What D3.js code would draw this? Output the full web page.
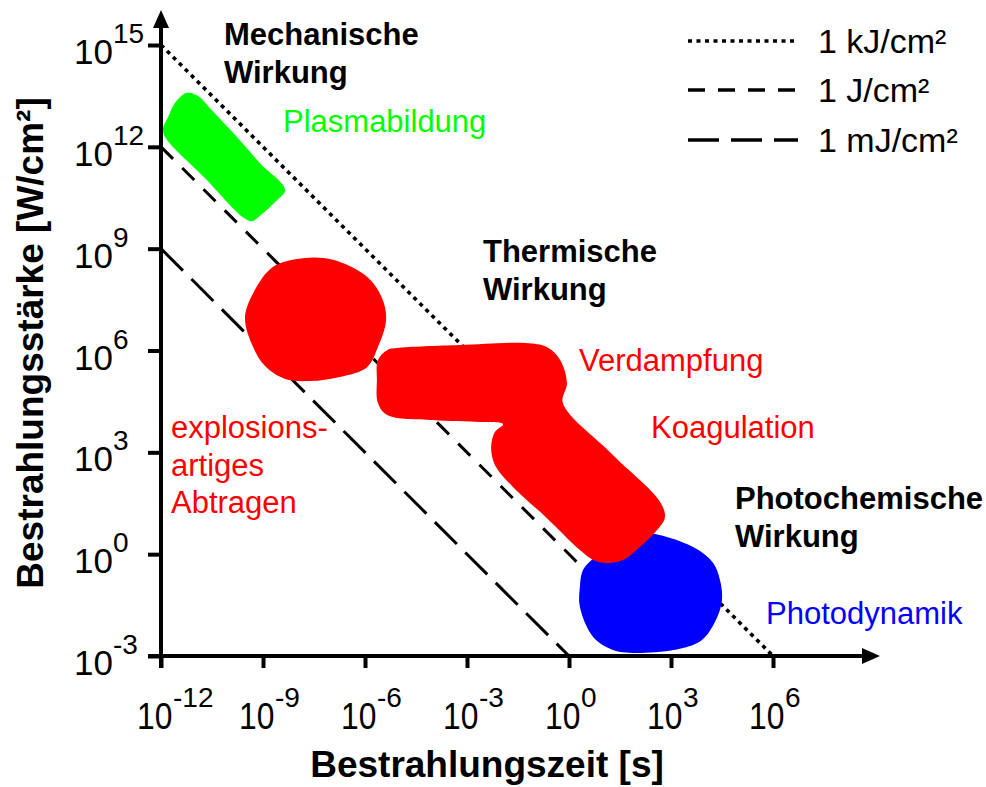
<!DOCTYPE html>
<html>
<head>
<meta charset="utf-8">
<script src="https://cdn.jsdelivr.net/npm/d3@7"></script>
<style>
  html, body { margin: 0; padding: 0; background: #ffffff; }
  svg text { font-family: "Liberation Sans", Arial, Helvetica, sans-serif; }
</style>
</head>
<body>
<svg id="chart" width="986" height="787"></svg>
<script>
// Tick exponents (powers of ten) on both logarithmic axes
const xTickExponents = [-12, -9, -6, -3, 0, 3, 6];
const yTickExponents = [-3, 0, 3, 6, 9, 12, 15];

// Lines of constant fluence (energy density, J/cm²)
const fluenceNames = ["1 kJ/cm²", "1 J/cm²", "1 mJ/cm²"];
const fluenceValues = [1e3, 1, 1e-3];

// Interaction regions, outlines given as [log10 time (s), log10 irradiance (W/cm²)]
const plasmaOutline = [
  [-11.24, 13.59], [-10.91, 13.50], [-10.56, 13.14], [-9.82, 12.35], [-9.09, 11.52],
  [-8.35, 10.73], [-8.65, 10.37], [-9.03, 10.02], [-9.32, 9.81], [-9.56, 9.90],
  [-10.71, 11.08], [-11.88, 12.29], [-11.94, 12.55], [-11.79, 12.88], [-11.59, 13.29]
];
const ablationOutline = [
  [-7.82, 8.72], [-6.94, 8.67], [-5.94, 8.17], [-5.50, 7.55], [-5.38, 6.90],
  [-5.62, 6.10], [-5.94, 5.51], [-6.74, 5.22], [-7.62, 5.10], [-8.35, 5.16],
  [-8.94, 5.54], [-9.29, 6.10], [-9.53, 6.96], [-9.29, 7.69], [-8.71, 8.46]
];
const thermalOutline = [
  [-5.06, 6.07], [-3.21, 6.16], [-1.29, 6.22], [-0.65, 6.10], [-0.26, 5.72],
  [-0.06, 5.04], [-0.18, 4.45], [1.26, 2.95], [2.68, 1.54], [2.82, 1.09],
  [2.59, 0.71], [1.88, 0.03], [1.59, -0.17], [1.12, -0.26], [0.71, -0.17],
  [0.32, 0.12], [-0.68, 1.09], [-1.65, 1.98], [-2.18, 2.63], [-2.29, 3.16],
  [-2.18, 3.60], [-1.94, 3.83], [-2.62, 3.89], [-4.00, 3.95], [-5.35, 4.10],
  [-5.62, 4.45], [-5.65, 5.13], [-5.62, 5.72], [-5.35, 6.01]
];
const photodynOutline = [
  [2.18, 0.62], [3.65, 0.21], [4.24, -0.26], [4.44, -0.76], [4.50, -1.35],
  [4.32, -1.94], [3.91, -2.53], [3.26, -2.79], [2.09, -2.91], [1.29, -2.82],
  [0.71, -2.44], [0.32, -1.56], [0.32, -0.97], [0.41, -0.47], [0.76, -0.08],
  [1.35, 0.33]
];

const svg = d3.select("#chart");

const x = d3.scaleLog().domain([1e-12, 1e6]).range([161, 773]);
const y = d3.scaleLog().domain([1e-3, 1e15]).range([656, 45]);

const xOrigin = x(1e-12), yOrigin = y(1e-3);

// ---- constant-fluence diagonals: I = F / t, from t = 1e-12 s down to I = 1e-3 W/cm²
const dashes = ["4,4.5", "17,13", "31,12"];
const widths = [3.6, 3, 3];
const diag = d3.line().x(d => x(d[0])).y(d => y(d[1]));
fluenceValues.forEach((F, i) => {
  const pts = [[1e-12, F / 1e-12], [F / 1e-3, 1e-3]];
  svg.append("path")
    .attr("d", diag(pts))
    .attr("fill", "none")
    .attr("stroke", "#000")
    .attr("stroke-width", widths[i])
    .attr("stroke-dasharray", dashes[i]);
});

// ---- interaction regions
const blob = d3.line()
  .x(d => x(Math.pow(10, d[0])))
  .y(d => y(Math.pow(10, d[1])))
  .curve(d3.curveCatmullRomClosed.alpha(0.5));

svg.append("path").attr("d", blob(photodynOutline)).attr("fill", "#0000ff");
svg.append("path").attr("d", blob(thermalOutline)).attr("fill", "#ff0000");
svg.append("path").attr("d", blob(ablationOutline)).attr("fill", "#ff0000");
svg.append("path").attr("d", blob(plasmaOutline)).attr("fill", "#00ff00");

// ---- axes
const xAxis = d3.axisBottom(x)
  .tickValues(xTickExponents.map(e => Math.pow(10, e)))
  .tickSize(12).tickSizeOuter(0).tickFormat("");
const gx = svg.append("g").attr("transform", `translate(0,${yOrigin})`).call(xAxis);
gx.select(".domain").remove();
gx.selectAll(".tick line").attr("stroke", "#000").attr("stroke-width", 4);

const yAxis = d3.axisLeft(y)
  .tickValues(yTickExponents.map(e => Math.pow(10, e)))
  .tickSize(13).tickSizeOuter(0).tickFormat("");
const gy = svg.append("g").attr("transform", `translate(${xOrigin},0)`).call(yAxis);
gy.select(".domain").remove();
gy.selectAll(".tick line").attr("stroke", "#000").attr("stroke-width", 4);

// axis lines with arrow heads
svg.append("line").attr("x1", xOrigin - 13).attr("y1", yOrigin).attr("x2", 866).attr("y2", yOrigin)
  .attr("stroke", "#000").attr("stroke-width", 4);
svg.append("path").attr("d", `M880,${yOrigin} L862,${yOrigin - 8} L862,${yOrigin + 8} Z`).attr("fill", "#000");
svg.append("line").attr("x1", xOrigin).attr("y1", yOrigin + 12).attr("x2", xOrigin).attr("y2", 24)
  .attr("stroke", "#000").attr("stroke-width", 4);
svg.append("path").attr("d", `M${xOrigin},10 L${xOrigin - 8},28 L${xOrigin + 8},28 Z`).attr("fill", "#000");

// tick labels as powers of ten
xTickExponents.forEach(e => {
  const px = x(Math.pow(10, e));
  svg.append("text")
    .attr("transform", `translate(${px - 24},729) scale(0.86,1)`)
    .attr("font-size", 37).attr("fill", "#000").text("10");
  svg.append("text")
    .attr("x", px + 12).attr("y", 707)
    .attr("font-size", 28).attr("fill", "#000").text(String(e));
});
yTickExponents.forEach(e => {
  const py = y(Math.pow(10, e));
  svg.append("text").attr("x", 74).attr("y", py + 19)
    .attr("font-size", 35).attr("fill", "#000").text("10");
  svg.append("text").attr("x", 113).attr("y", py - 2)
    .attr("font-size", 28).attr("fill", "#000").text(String(e));
});

// axis titles
svg.append("text").attr("x", 487).attr("y", 777).attr("text-anchor", "middle")
  .attr("font-size", 37).attr("font-weight", "bold").attr("fill", "#000")
  .text("Bestrahlungszeit [s]");
svg.append("text").attr("transform", "translate(43,343) rotate(-90)").attr("text-anchor", "middle")
  .attr("font-size", 37).attr("font-weight", "bold").attr("fill", "#000")
  .text("Bestrahlungsstärke [W/cm²]");

// ---- legend
const legend = svg.append("g");
fluenceNames.forEach((name, i) => {
  const ly = [41, 90, 140][i];
  legend.append("line").attr("x1", 688).attr("x2", 798).attr("y1", ly).attr("y2", ly)
    .attr("stroke", "#000").attr("stroke-width", 3.6).attr("stroke-dasharray", dashes[i]);
  legend.append("text").attr("x", 818).attr("y", ly + 11.5)
    .attr("font-size", 34).attr("fill", "#000").text(name);
});

// ---- region annotations
function label(lines, x0, y0, lh, color, bold) {
  const t = svg.append("text").attr("x", x0).attr("y", y0)
    .attr("font-size", 31).attr("fill", color)
    .attr("font-weight", bold ? "bold" : "normal");
  lines.forEach((s, i) => t.append("tspan").attr("x", x0).attr("y", y0 + i * lh).text(s));
}
label(["Mechanische", "Wirkung"], 224, 45, 38, "#000", true);
label(["Plasmabildung"], 283, 132, 0, "#00ff00", false);
label(["Thermische", "Wirkung"], 483, 262, 38, "#000", true);
label(["Verdampfung"], 579, 371, 0, "#ff0000", false);
label(["Koagulation"], 651, 438, 0, "#ff0000", false);
label(["Photochemische", "Wirkung"], 735, 509, 38, "#000", true);
label(["Photodynamik"], 766, 624, 0, "#0000ff", false);
label(["explosions-", "artiges", "Abtragen"], 171, 438, 37.5, "#ff0000", false);
</script>
</body>
</html>
